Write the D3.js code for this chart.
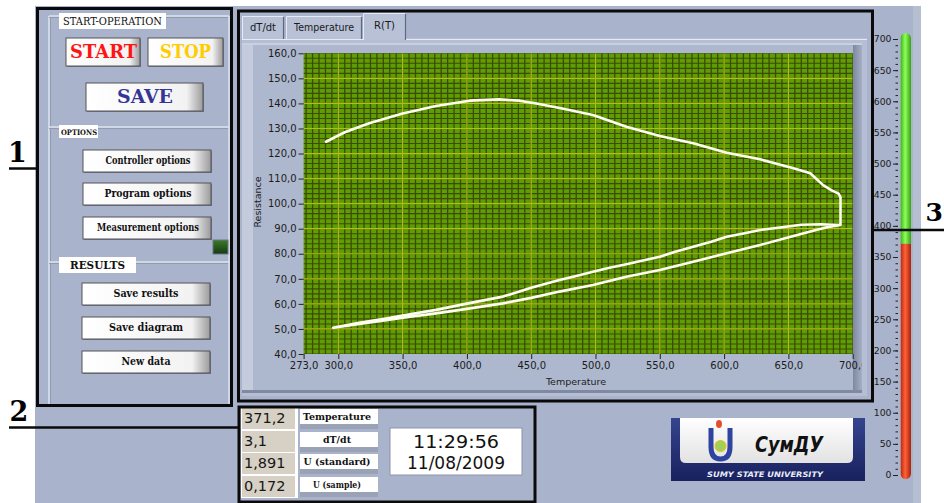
<!DOCTYPE html>
<html><head><meta charset="utf-8">
<script src="https://cdn.jsdelivr.net/npm/d3@7"></script>
<style>html,body{margin:0;padding:0;background:#fff;}svg{display:block}</style>
</head><body>
<svg id="c" width="944" height="503"></svg>
<script>
// ---------- DATA ----------
const segTopT = [290.4, 305, 324, 350, 376, 402, 425, 441, 454, 475, 498, 524, 550, 576, 602, 628, 654, 667, 677, 684, 689, 690.5, 690.5];
const segTopR = [124.7, 128.5, 132.1, 136, 139, 141.1, 141.6, 141.1, 140.0, 137.9, 135.4, 130.7, 127, 124.1, 120.3, 117.7, 114.1, 112.1, 107.4, 105.2, 104, 102.6, 91.5];
const segUpT  = [690.5, 675, 660, 645, 628, 615, 602, 590, 576, 562, 550, 536, 524, 510, 498, 485, 472, 450, 428, 400, 376, 350, 337, 315, 296];
const segUpR  = [91.5, 91.8, 91.6, 90.6, 89.5, 88.1, 86.8, 84.8, 82.8, 80.8, 78.8, 77.2, 75.8, 74.3, 72.8, 71.1, 69.5, 66.4, 62.9, 60.1, 57.6, 55.4, 54.2, 52.4, 50.5];
const segLowT = [296, 315, 337, 356, 376, 400, 428, 450, 472, 498, 524, 550, 576, 602, 628, 654, 670, 680, 690.5];
const segLowR = [50.5, 51.9, 53.5, 54.9, 56.2, 58.0, 60.2, 62.4, 64.9, 67.5, 70.8, 73.5, 76.8, 80.2, 83.5, 87.1, 89.3, 90.6, 91.5];

const xTicks = [273, 300, 350, 400, 450, 500, 550, 600, 650, 700];
const yTicks = [40, 50, 60, 70, 80, 90, 100, 110, 120, 130, 140, 150, 160];
const thermoTicks = [0, 50, 100, 150, 200, 250, 300, 350, 400, 450, 500, 550, 600, 650, 700];
const thermoValue = 371.2;
const tabLabels = ["dT/dt", "Temperature", "R(T)"];
const readoutValues = ["371,2", "3,1", "1,891", "0,172"];
const readoutLabels = ["Temperature", "dT/dt", "U (standard)", "U (sample)"];
const timeText = ["11:29:56", "11/08/2009"];
const optionButtons = ["Controller options", "Program options", "Measurement options"];
const resultButtons = ["Save results", "Save diagram", "New data"];
const xTitle = "Temperature", yTitle = "Resistance";

// ---------- SETUP ----------
const svg = d3.select("#c");
const W = 944, H = 503;
const PANEL = "#a9b3cb";
const defs = svg.append("defs");
function lin(id, stops, x2 = "0", y2 = "1") {
  const g = defs.append("linearGradient").attr("id", id).attr("x1", 0).attr("y1", 0).attr("x2", x2).attr("y2", y2);
  stops.forEach(s => g.append("stop").attr("offset", s[0]).attr("stop-color", s[1]));
}
lin("btn", [["0", "#ffffff"], ["0.86", "#f2f2f2"], ["1", "#9b9b9b"]], "1", "0");
lin("green", [["0", "#3cb414"], ["0.45", "#8dff5a"], ["1", "#37a010"]], "1", "0");
lin("red", [["0", "#b82810"], ["0.45", "#ff6238"], ["1", "#a8200c"]], "1", "0");
lin("navy", [["0", "#35448e"], ["1", "#19215e"]]);
lin("logoface", [["0", "#ffffff"], ["1", "#e2e2e2"]]);
lin("rshadow", [["0", "#7e889f"], ["1", "#a4aec4"]], "1", "0");
lin("led", [["0", "#3d7a2a"], ["1", "#143a10"]]);

svg.append("rect").attr("width", W).attr("height", H).attr("fill", "#fff");
svg.append("rect").attr("x", 35).attr("y", 6).attr("width", 886).attr("height", 497).attr("fill", PANEL);
svg.append("rect").attr("x", 913).attr("y", 6).attr("width", 8).attr("height", 497).attr("fill", "#b6bed2");

const serif = "DejaVu Serif", sans = "DejaVu Sans";
function txt(g, x, y, s, o = {}) {
  const t = g.append("text").attr("x", x).attr("y", y).text(s)
    .attr("font-family", o.family || serif).attr("font-size", o.size || 11)
    .attr("font-weight", o.weight || "bold").attr("fill", o.fill || "#111")
    .attr("text-anchor", o.anchor || "middle");
  if (o.italic) t.attr("font-style", "italic");
  if (o.len) t.attr("textLength", o.len).attr("lengthAdjust", "spacingAndGlyphs");
  return t;
}

// ---------- LEFT PANEL ----------
const L = svg.append("g");
const hl = "#dfe4ee", sh = "#8a94ab";
[[49, 16, 49, 404], [49, 16, 229, 16], [49, 127, 229, 127], [49, 262, 229, 262], [229, 16, 229, 404]].forEach(d => {
  L.append("line").attr("x1", d[0]).attr("y1", d[1]).attr("x2", d[2]).attr("y2", d[3]).attr("stroke", hl).attr("stroke-width", 1.5);
  L.append("line").attr("x1", d[0] + (d[0] === d[2] ? 1.5 : 0)).attr("y1", d[1] + (d[1] === d[3] ? 1.5 : 0))
    .attr("x2", d[2] + (d[0] === d[2] ? 1.5 : 0)).attr("y2", d[3] + (d[1] === d[3] ? 1.5 : 0)).attr("stroke", sh).attr("stroke-width", 0.8);
});
L.append("rect").attr("x", 59).attr("y", 13).attr("width", 107).attr("height", 16).attr("fill", "#fff");
txt(L, 112.5, 25, "START-OPERATION", { weight: "normal", size: 10.5, len: 99 });
L.append("rect").attr("x", 59).attr("y", 125).attr("width", 39).attr("height", 13).attr("fill", "#fff");
txt(L, 79, 135, "OPTIONS", { size: 7.5, len: 36 });
L.append("rect").attr("x", 59).attr("y", 257).attr("width", 77).attr("height", 16).attr("fill", "#fff");
txt(L, 97.5, 269, "RESULTS", { size: 11, len: 55 });

function button(x, y, w, h) {
  L.append("rect").attr("x", x + 1).attr("y", y + 1).attr("width", w).attr("height", h).attr("fill", "#6f7890");
  L.append("rect").attr("x", x).attr("y", y).attr("width", w).attr("height", h).attr("fill", "url(#btn)").attr("stroke", "#555").attr("stroke-width", 1);
}
button(66, 38, 74, 28); txt(L, 103.5, 58, "START", { size: 18, fill: "#ff1414", len: 67 });
button(148, 38, 75, 28); txt(L, 185.5, 58, "STOP", { size: 18, fill: "#ffcc00", len: 51 });
button(86, 83, 117, 28); txt(L, 145, 103, "SAVE", { size: 18, fill: "#353597", len: 56 });

const optY = [150, 183, 217];
const optLen = [85, 87, 102];
optionButtons.forEach((s, i) => {
  button(83, optY[i], 128, 22);
  txt(L, 148, optY[i] + 14, s, { size: 10.5, len: optLen[i] });
});
L.append("rect").attr("x", 213).attr("y", 240).attr("width", 15).attr("height", 14).attr("fill", "url(#led)").attr("stroke", "#6a7488");
const resY = [283, 317, 351];
const resLen = [65, 74, 49];
resultButtons.forEach((s, i) => {
  button(82, resY[i], 128, 22);
  txt(L, 146, resY[i] + 14, s, { size: 10.5, len: resLen[i] });
});

// ---------- CHART (tab control) ----------
const T = svg.append("g");
const tabs = [{ x: 242, w: 42, y: 16 }, { x: 286, w: 76, y: 16 }, { x: 363, w: 43, y: 13 }];
T.append("rect").attr("x", 242).attr("y", 38).attr("width", 625).attr("height", 358).attr("fill", "#b5bed4");
tabs.forEach((t, i) => {
  T.append("rect").attr("x", t.x).attr("y", t.y).attr("width", t.w).attr("height", 40 - t.y).attr("fill", "#b8c1d6");
  T.append("path").attr("d", `M${t.x + 0.5},40 V${t.y + 0.5} H${t.x + t.w - 1}`).attr("fill", "none").attr("stroke", "#e6eaf2");
  T.append("path").attr("d", `M${t.x + t.w - 0.5},${t.y + 1} V40`).attr("fill", "none").attr("stroke", "#5e6882").attr("stroke-width", 1.2);
  txt(T, t.x + t.w / 2, i === 2 ? 29 : 31, tabLabels[i], { family: sans, weight: "normal", size: 10, fill: "#1a1a1a", len: [26, 60, 21][i] });
});
T.append("line").attr("x1", 242).attr("y1", 39.5).attr("x2", 363).attr("y2", 39.5).attr("stroke", "#e6eaf2");
T.append("line").attr("x1", 406).attr("y1", 39.5).attr("x2", 867).attr("y2", 39.5).attr("stroke", "#e6eaf2");
T.append("rect").attr("x", 242).attr("y", 43).attr("width", 11).attr("height", 347).attr("fill", "#c3cbdd");
T.append("rect").attr("x", 253).attr("y", 43).attr("width", 600).attr("height", 347).attr("fill", "#adb7cd");
T.append("rect").attr("x", 853).attr("y", 43).attr("width", 9).attr("height", 347).attr("fill", "url(#rshadow)");
T.append("rect").attr("x", 242).attr("y", 390).attr("width", 620).attr("height", 3).attr("fill", "#7f89a0");
T.append("rect").attr("x", 242).attr("y", 43).attr("width", 620).attr("height", 2).attr("fill", "#c9d0e0");

// scales
const x = d3.scaleLinear().domain([273, 700]).range([303.6, 852.7]);
const y = d3.scaleLinear().domain([40, 160]).range([354, 53.3]);
const fmt = v => d3.format(".1f")(v).replace(".", ",");

// plot background + grid
const P = T.append("g");
defs.append("clipPath").attr("id", "plotclip").append("rect")
  .attr("x", x(273)).attr("y", y(160)).attr("width", x(700) - x(273)).attr("height", y(40) - y(160));
P.append("rect").attr("x", x(273)).attr("y", y(160)).attr("width", x(700) - x(273)).attr("height", y(40) - y(160)).attr("fill", "#5e9e02");
const G = P.append("g").attr("clip-path", "url(#plotclip)");
const minorX = x.ticks(85), minorY = y.ticks(60);
G.selectAll(".mx").data(minorX).join("line").attr("x1", d => x(d)).attr("x2", d => x(d)).attr("y1", y(160)).attr("y2", y(40))
  .attr("stroke", "#3e4a08").attr("stroke-width", 1.3);
G.selectAll(".my").data(minorY).join("line").attr("y1", d => y(d)).attr("y2", d => y(d)).attr("x1", x(273)).attr("x2", x(700))
  .attr("stroke", "#3e4a08").attr("stroke-width", 1.1);
G.selectAll(".MX").data(xTicks.slice(1, -1)).join("line").attr("x1", d => x(d)).attr("x2", d => x(d)).attr("y1", y(160)).attr("y2", y(40))
  .attr("stroke", "#b2bc1c").attr("stroke-width", 1.2);
G.selectAll(".MY").data(yTicks.slice(1, -1)).join("line").attr("y1", d => y(d)).attr("y2", d => y(d)).attr("x1", x(273)).attr("x2", x(700))
  .attr("stroke", "#b2bc1c").attr("stroke-width", 1.2);

// curve
const pts = [].concat(
  d3.zip(segTopT, segTopR), d3.zip(segUpT, segUpR), d3.zip(segLowT, segLowR));
G.append("path").datum(pts).attr("d", d3.line().x(d => x(d[0])).y(d => y(d[1])))
  .attr("fill", "none").attr("stroke", "#fffef2").attr("stroke-width", 2.6).attr("stroke-linejoin", "round").attr("stroke-linecap", "round");

// axes
function styleAxis(g) {
  g.select(".domain").remove();
  g.selectAll("text").attr("font-family", sans).attr("font-size", 10).attr("fill", "#1c1c1c");
  g.selectAll("line").attr("stroke", "#222");
}
T.append("g").attr("transform", `translate(${x(273)},0)`)
  .call(d3.axisLeft(y).tickValues(yTicks).tickFormat(fmt).tickSize(5).tickPadding(2)).call(styleAxis);
defs.append("clipPath").attr("id", "xaxclip").append("rect").attr("x", 250).attr("y", 350).attr("width", 612).attr("height", 30);
T.append("g").attr("clip-path", "url(#xaxclip)").append("g").attr("transform", `translate(0,${y(40)})`)
  .call(d3.axisBottom(x).tickValues(xTicks).tickFormat(fmt).tickSize(5).tickPadding(3)).call(styleAxis);
txt(T, 576, 385, xTitle, { family: sans, weight: "normal", size: 9.5, fill: "#1c1c1c" });
txt(T, 0, 0, yTitle, { family: sans, weight: "normal", size: 9.5, fill: "#1c1c1c" })
  .attr("transform", "translate(261,202) rotate(-90)");

// ---------- THERMOMETER ----------
const yT = d3.scaleLinear().domain([0, 700]).range([475, 39]);
const TH = svg.append("g");
defs.append("clipPath").attr("id", "thclip").append("rect").attr("x", 900.5).attr("y", 33).attr("width", 10.5).attr("height", 446).attr("rx", 5.2);
const bar = TH.append("g").attr("clip-path", "url(#thclip)");
bar.append("rect").attr("x", 900.5).attr("y", 33).attr("width", 10.5).attr("height", yT(thermoValue) - 33).attr("fill", "url(#green)");
bar.append("rect").attr("x", 900.5).attr("y", yT(thermoValue)).attr("width", 10.5).attr("height", 479 - yT(thermoValue)).attr("fill", "url(#red)");
TH.append("g").attr("transform", "translate(898,0)")
  .call(d3.axisLeft(yT).tickValues(d3.range(0, 701, 10)).tickFormat("").tickSize(2.5)).call(styleAxis);
TH.append("g").attr("transform", "translate(898,0)")
  .call(d3.axisLeft(yT).tickValues(thermoTicks).tickFormat(d3.format("d")).tickSize(5).tickPadding(1.5)).call(styleAxis)
  .selectAll("text").attr("font-size", 9.3);

// ---------- READOUTS (box 2) ----------
const R = svg.append("g");
R.append("rect").attr("x", 241).attr("y", 407).attr("width", 57).attr("height", 91).attr("fill", "#fff");
const rowY = [408, 431, 453, 476];
readoutValues.forEach((v, i) => {
  R.append("rect").attr("x", 242).attr("y", rowY[i]).attr("width", 53).attr("height", 21).attr("fill", "#d6d0c5");
  txt(R, 244, rowY[i] + 15, v, { family: sans, weight: "normal", size: 14.5, anchor: "start", fill: "#161616" });
});
const labLen = [68, 28, 67, 48];
readoutLabels.forEach((s, i) => {
  R.append("rect").attr("x", 300).attr("y", rowY[i] + 1).attr("width", 78).attr("height", 20).attr("fill", "#9aa2b6");
  R.append("rect").attr("x", 300).attr("y", rowY[i] + 1).attr("width", 78).attr("height", 15).attr("fill", "#fff");
  txt(R, 337, rowY[i] + 12, s, { size: 9.3, len: labLen[i] });
});
R.append("rect").attr("x", 390).attr("y", 428).attr("width", 132).attr("height", 47).attr("fill", "#fff").attr("stroke", "#8c95aa");
txt(R, 456, 448, timeText[0], { family: sans, weight: "normal", size: 17, fill: "#111", len: 86 });
txt(R, 456, 469, timeText[1], { family: sans, weight: "normal", size: 17, fill: "#111", len: 98 });

// ---------- LOGO ----------
const LG = svg.append("g");
LG.append("rect").attr("x", 671).attr("y", 418).attr("width", 194).attr("height", 63).attr("fill", "url(#navy)");
LG.append("path").attr("d", "M680,418 H853 V457 Q853,463 847,463 H686 Q680,463 680,457 Z").attr("fill", "url(#logoface)");
LG.append("path").attr("d", "M711,428 V447 Q711,459 720.5,459 Q730,459 730,447 V428").attr("fill", "none").attr("stroke", "#2f43a0").attr("stroke-width", 5);
LG.append("circle").attr("cx", 720.5).attr("cy", 446).attr("r", 5.5).attr("fill", "#9fd05a").attr("stroke", "#e8c020").attr("stroke-width", 1.2);
LG.append("ellipse").attr("cx", 719).attr("cy", 424).attr("rx", 3).attr("ry", 4).attr("fill", "#e2502a");
txt(LG, 789, 452, "СумДУ", { family: sans, size: 22, italic: true, fill: "#111", len: 68 });
txt(LG, 765, 477, "SUMY STATE UNIVERSITY", { family: sans, size: 7.5, italic: true, fill: "#e8ecf6", len: 116 });

// ---------- ANNOTATION BOXES ----------
const A = svg.append("g").attr("fill", "none").attr("stroke", "#0a0a0a").attr("stroke-width", 3);
A.append("rect").attr("x", 37.5).attr("y", 8.5).attr("width", 194).attr("height", 397);
A.append("rect").attr("x", 238.5).attr("y", 11).attr("width", 634).attr("height", 390);
A.append("rect").attr("x", 239).attr("y", 407).attr("width", 296).attr("height", 95);
A.append("line").attr("x1", 9).attr("y1", 168.5).attr("x2", 37).attr("y2", 168.5).attr("stroke-width", 2.5);
A.append("line").attr("x1", 9).attr("y1", 427.5).attr("x2", 239).attr("y2", 427.5).attr("stroke-width", 2.5);
A.append("line").attr("x1", 873).attr("y1", 230).attr("x2", 944).attr("y2", 230).attr("stroke-width", 2.5);
const N = svg.append("g");
txt(N, 17.5, 162, "1", { size: 27, fill: "#000" });
txt(N, 19, 421, "2", { size: 27, fill: "#000" });
txt(N, 943, 221, "3", { size: 25, fill: "#000", anchor: "end" });
</script>
</body></html>
